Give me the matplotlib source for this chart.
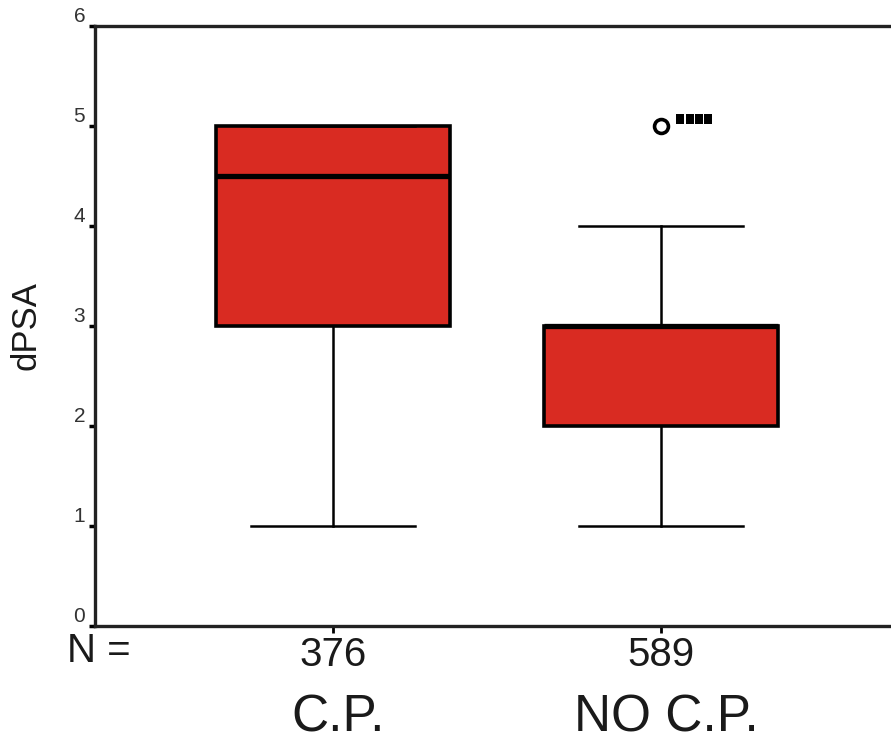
import matplotlib
matplotlib.use("Agg")
import matplotlib.pyplot as plt
import matplotlib.transforms as mtransforms

plt.rcParams['font.family'] = ['Liberation Sans', 'DejaVu Sans']

# Group summary statistics (dPSA)
groups = ["C.P.", "NO C.P."]
counts = [376, 589]
whisker_low = [1, 1]
q1 = [3, 2]
medians = [4.5, 3]
q3 = [5, 3]
whisker_high = [5, 4]
outliers = [[], [5]]
yticks = [0, 1, 2, 3, 4, 5, 6]

fig = plt.figure(figsize=(8.91, 7.41), dpi=100)
ax = fig.add_axes([0.1066, 0.1552, 0.9024, 0.8097])

stats = []
for i, g in enumerate(groups):
    stats.append(dict(label=g, whislo=whisker_low[i], q1=q1[i], med=medians[i],
                      q3=q3[i], whishi=whisker_high[i], fliers=outliers[i]))

positions = [1, 2]
ax.bxp(stats, positions=positions, widths=0.715, patch_artist=True,
       boxprops=dict(facecolor="#d92b22", edgecolor="black", linewidth=2.6),
       medianprops=dict(color="black", linewidth=3.8, solid_capstyle="butt"),
       whiskerprops=dict(color="black", linewidth=1.8),
       capprops=dict(color="black", linewidth=1.8),
       capwidths=0.5,
       flierprops=dict(marker="o", markersize=10, markerfacecolor="white",
                       markeredgecolor="black", markeredgewidth=2.6))

# stacked outlier indicator beside the circle
bar_marker = [(-0.37, -0.5), (0.37, -0.5), (0.37, 0.5), (-0.37, 0.5), (-0.37, -0.5)]
for i, pos in enumerate(positions):
    for v in outliers[i]:
        for k in range(4):
            off = mtransforms.ScaledTranslation((19.5 + 9.2 * k) / 100, 7 / 100, fig.dpi_scale_trans)
            ax.plot([pos], [v], marker=bar_marker, markersize=7.5, color="black",
                    markeredgewidth=0, linestyle="none",
                    transform=ax.transData + off, clip_on=False)

ax.set_xlim(0.274, 2.726)
ax.set_ylim(0, 6)
ax.set_yticks(yticks)
ax.set_yticklabels([str(t) for t in yticks], fontsize=15, color="#333333",
                   va="bottom")
ax.tick_params(axis="y", direction="out", length=4, width=2.5, pad=3)
ax.set_xticks(positions)
ax.set_xticklabels([str(c) for c in counts], fontsize=29, color="#1a1a1a")
ax.tick_params(axis="x", direction="out", length=5, width=2, pad=2)

for s in ["left", "bottom", "top", "right"]:
    ax.spines[s].set_linewidth(2.4)
    ax.spines[s].set_color("#222222")

ax.set_ylabel("dPSA", fontsize=25, color="#1a1a1a", labelpad=22)

# row label for counts and group names below
fig.text(99 / 891, 1 - 651 / 741, "N =", fontsize=29, color="#1a1a1a",
         ha="center", va="center")
for i, g in enumerate(groups):
    xd = ax.transData.transform((positions[i], 0))[0]
    fig.text(xd / 891 + 0.006, 1 - 731 / 741, g, fontsize=37, color="#1a1a1a",
             ha="center", va="baseline")

fig.savefig("out.png", dpi=100)
